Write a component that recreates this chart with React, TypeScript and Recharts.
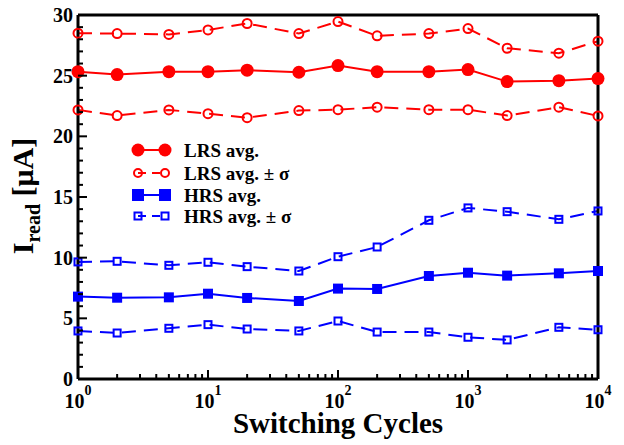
import { LineChart, Line, XAxis, YAxis } from "recharts";

// read current vs. number of switching cycles
const cycles = [1, 2, 5, 10, 20, 50, 100, 200, 500, 1000, 2000, 5000, 10000];
const lrsUpper = [28.5, 28.47, 28.4, 28.77, 29.3, 28.47, 29.46, 28.28, 28.47, 28.88, 27.26, 26.85, 27.84];
const lrsAvg = [25.33, 25.09, 25.33, 25.33, 25.45, 25.28, 25.83, 25.33, 25.33, 25.5, 24.51, 24.59, 24.76];
const lrsLower = [22.18, 21.71, 22.18, 21.87, 21.54, 22.12, 22.2, 22.4, 22.2, 22.2, 21.71, 22.4, 21.68];
const hrsUpper = [9.65, 9.7, 9.37, 9.62, 9.26, 8.9, 10.08, 10.88, 13.08, 14.1, 13.79, 13.16, 13.85];
const hrsAvg = [6.79, 6.7, 6.73, 7.03, 6.68, 6.43, 7.45, 7.42, 8.49, 8.76, 8.52, 8.71, 8.9];
const hrsLower = [3.96, 3.79, 4.18, 4.48, 4.12, 3.96, 4.78, 3.87, 3.87, 3.44, 3.22, 4.26, 4.06];

const decadeTicks = [1, 10, 100, 1000, 10000];
const xTicks = [
  1, 2, 3, 4, 5, 6, 7, 8, 9,
  10, 20, 30, 40, 50, 60, 70, 80, 90,
  100, 200, 300, 400, 500, 600, 700, 800, 900,
  1000, 2000, 3000, 4000, 5000, 6000, 7000, 8000, 9000,
  10000,
];
const yTicks = Array.from({ length: 31 }, (_, i) => i);

const RED = "#FF0000";
const BLUE = "#0000FF";
const SERIF = "'Liberation Serif', 'Times New Roman', serif";
const MAJOR = 9;
const MINOR = 5;

const data = cycles.map((c, i) => ({
  cycle: c,
  lrsUpper: lrsUpper[i],
  lrsAvg: lrsAvg[i],
  lrsLower: lrsLower[i],
  hrsUpper: hrsUpper[i],
  hrsAvg: hrsAvg[i],
  hrsLower: hrsLower[i],
}));

const legendRows = [
  { label: "LRS avg.", color: RED, shape: "circle", filled: true, dashed: false },
  { label: "LRS avg. ± σ", color: RED, shape: "circle", filled: false, dashed: true },
  { label: "HRS avg.", color: BLUE, shape: "square", filled: true, dashed: false },
  { label: "HRS avg. ± σ", color: BLUE, shape: "square", filled: false, dashed: true },
];
const legendY = [150, 173, 195, 216];

const isDecade = (v: number) => decadeTicks.includes(v);
const isMajorY = (v: number) => v % 5 === 0;

// ticks point into the plot; the tick renderers draw their own lines
const BottomTick = ({ x, y, payload }: any) => {
  const major = isDecade(payload.value);
  return (
    <g>
      <line x1={x} x2={x} y1={y} y2={y - (major ? MAJOR : MINOR)} stroke="#000" strokeWidth={2} />
      {major && (
        <text x={x} y={y + 29} textAnchor="middle" fontFamily={SERIF} fontWeight="bold" fill="#000">
          <tspan fontSize={20}>10</tspan>
          <tspan fontSize={14} dy={-13}>{Math.round(Math.log10(payload.value))}</tspan>
        </text>
      )}
    </g>
  );
};

const TopTick = ({ x, y, payload }: any) => (
  <line x1={x} x2={x} y1={y} y2={y + (isDecade(payload.value) ? MAJOR : MINOR)} stroke="#000" strokeWidth={2} />
);

const LeftTick = ({ x, y, payload }: any) => {
  const major = isMajorY(payload.value);
  return (
    <g>
      <line x1={x} x2={x + (major ? MAJOR : MINOR)} y1={y} y2={y} stroke="#000" strokeWidth={2} />
      {major && (
        <text x={x - 5} y={y} dy="0.35em" textAnchor="end" fontFamily={SERIF} fontWeight="bold" fontSize={20} fill="#000">
          {payload.value}
        </text>
      )}
    </g>
  );
};

const RightTick = ({ x, y, payload }: any) => (
  <line x1={x} x2={x - (isMajorY(payload.value) ? MAJOR : MINOR)} y1={y} y2={y} stroke="#000" strokeWidth={2} />
);

const filledSquare = (props: any) => (
  <rect key={props.index} x={props.cx - 5} y={props.cy - 5} width={10} height={10} fill={BLUE} />
);
const openSquare = (props: any) => (
  <rect key={props.index} x={props.cx - 3.5} y={props.cy - 3.5} width={7} height={7} fill="none" stroke={BLUE} strokeWidth={2} />
);
const openCircle = { r: 4.5, fill: "none", stroke: RED, strokeWidth: 2, strokeDasharray: "" };
const filledCircle = { r: 6.5, fill: RED, stroke: RED, strokeWidth: 0 };

const marker = (row: any, cx: number, cy: number) => {
  if (row.shape === "circle") {
    return row.filled ? (
      <circle cx={cx} cy={cy} r={6.5} fill={row.color} />
    ) : (
      <circle cx={cx} cy={cy} r={4} fill="none" stroke={row.color} strokeWidth={2} />
    );
  }
  return row.filled ? (
    <rect x={cx - 6} y={cy - 6} width={12} height={12} fill={row.color} />
  ) : (
    <rect x={cx - 3.5} y={cy - 3.5} width={7} height={7} fill="none" stroke={row.color} strokeWidth={2} />
  );
};

export default function App() {
  return (
    <div style={{ position: "absolute", left: 0, top: 0, width: 624, height: 445, background: "#fff" }}>
      <LineChart width={624} height={445} data={data} margin={{ top: 15, right: 26, left: 0, bottom: 0 }}>
        <XAxis
          xAxisId="x"
          dataKey="cycle"
          type="number"
          scale="log"
          domain={[1, 10000]}
          ticks={xTicks}
          interval={0}
          height={66}
          stroke="#000"
          strokeWidth={3}
          tickLine={false}
          tickSize={0}
          tickMargin={0}
          tick={<BottomTick />}
        />
        <XAxis
          xAxisId="top"
          orientation="top"
          type="number"
          scale="log"
          domain={[1, 10000]}
          ticks={xTicks}
          interval={0}
          mirror
          height={1}
          stroke="#000"
          strokeWidth={3}
          tickLine={false}
          tickSize={0}
          tickMargin={0}
          tick={<TopTick />}
        />
        <YAxis
          yAxisId="y"
          type="number"
          domain={[0, 30]}
          ticks={yTicks}
          interval={0}
          width={78}
          stroke="#000"
          strokeWidth={3}
          tickLine={false}
          tickSize={0}
          tickMargin={0}
          tick={<LeftTick />}
        />
        <YAxis
          yAxisId="right"
          orientation="right"
          type="number"
          domain={[0, 30]}
          ticks={yTicks}
          interval={0}
          mirror
          width={1}
          stroke="#000"
          strokeWidth={3}
          tickLine={false}
          tickSize={0}
          tickMargin={0}
          tick={<RightTick />}
        />

        <Line xAxisId="x" yAxisId="y" dataKey="lrsUpper" stroke={RED} strokeWidth={2} strokeDasharray="14 8" dot={openCircle} isAnimationActive={false} />
        <Line xAxisId="x" yAxisId="y" dataKey="lrsAvg" stroke={RED} strokeWidth={2} dot={filledCircle} isAnimationActive={false} />
        <Line xAxisId="x" yAxisId="y" dataKey="lrsLower" stroke={RED} strokeWidth={2} strokeDasharray="14 8" dot={openCircle} isAnimationActive={false} />
        <Line xAxisId="x" yAxisId="y" dataKey="hrsUpper" stroke={BLUE} strokeWidth={2} strokeDasharray="14 8" dot={openSquare} isAnimationActive={false} />
        <Line xAxisId="x" yAxisId="y" dataKey="hrsAvg" stroke={BLUE} strokeWidth={2} dot={filledSquare} isAnimationActive={false} />
        <Line xAxisId="x" yAxisId="y" dataKey="hrsLower" stroke={BLUE} strokeWidth={2} strokeDasharray="14 8" dot={openSquare} isAnimationActive={false} />
      </LineChart>

      {/* axis titles and legend */}
      <svg width={624} height={445} style={{ position: "absolute", left: 0, top: 0, pointerEvents: "none" }}>
        <text x={338} y={433} textAnchor="middle" fontFamily={SERIF} fontWeight="bold" fontSize={29} fill="#000">
          Switching Cycles
        </text>
        <text transform="rotate(-90)" x={-196} y={33} textAnchor="middle" fontFamily={SERIF} fontWeight="bold" fontSize={30} fill="#000">
          I
          <tspan fontSize={20} dy={7}>read</tspan>
          <tspan dy={-7}> [μA]</tspan>
        </text>
        {legendRows.map((row, i) => {
          const y = legendY[i];
          return (
            <g key={row.label}>
              <line x1={138} x2={165} y1={y} y2={y} stroke={row.color} strokeWidth={2} strokeDasharray={row.dashed ? "8 6" : undefined} />
              {marker(row, 138, y)}
              {marker(row, 165, y)}
              <text x={184} y={y} dy="0.35em" fontFamily={SERIF} fontWeight="bold" fontSize={19} fill="#000">
                {row.label}
              </text>
            </g>
          );
        })}
      </svg>
    </div>
  );
}
